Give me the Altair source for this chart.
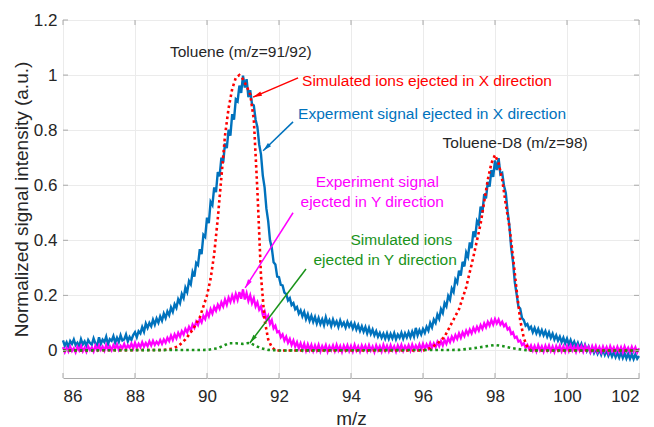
import math
import altair as alt
import pandas as pd

# ---------------- data ----------------
mz_grid = [round(86 + 0.05 * i, 2) for i in range(321)]

# Experiment signal ejected in X direction (blue), one row per m/z unit (0.05 steps)
exp_x = [
    0.037, 0.017, 0.030, 0.012, 0.034, 0.024, 0.040, 0.019, 0.028, 0.014, 0.041, 0.022, 0.033, 0.016, 0.038, 0.027, 0.021, 0.044, 0.026, 0.018,
    0.048, 0.024, 0.039, 0.030, 0.050, 0.022, 0.041, 0.035, 0.052, 0.028, 0.046, 0.031, 0.055, 0.036, 0.040, 0.058, 0.033, 0.049, 0.038, 0.056,
    0.066, 0.048, 0.070, 0.062, 0.085, 0.068, 0.098, 0.082, 0.100, 0.088, 0.112, 0.094, 0.116, 0.101, 0.124, 0.108, 0.134, 0.118, 0.142, 0.128,
    0.156, 0.140, 0.168, 0.155, 0.186, 0.172, 0.205, 0.190, 0.228, 0.212, 0.252, 0.240, 0.285, 0.268, 0.318, 0.310, 0.368, 0.350, 0.420, 0.412,
    0.482, 0.462, 0.540, 0.528, 0.592, 0.575, 0.648, 0.632, 0.700, 0.682, 0.752, 0.735, 0.802, 0.780, 0.858, 0.838, 0.912, 0.905, 0.962, 0.935,
    0.998, 0.955, 0.985, 0.920, 0.945, 0.895, 0.890, 0.838, 0.812, 0.748, 0.712, 0.635, 0.592, 0.515, 0.470, 0.400, 0.372, 0.320, 0.312, 0.268,
    0.266, 0.238, 0.236, 0.210, 0.205, 0.182, 0.190, 0.165, 0.172, 0.150, 0.158, 0.134, 0.146, 0.124, 0.140, 0.114, 0.132, 0.108, 0.126, 0.104,
    0.122, 0.098, 0.118, 0.096, 0.113, 0.092, 0.120, 0.097, 0.110, 0.089, 0.112, 0.093, 0.106, 0.086, 0.109, 0.090, 0.101, 0.083, 0.104, 0.087,
    0.100, 0.080, 0.097, 0.076, 0.092, 0.071, 0.088, 0.068, 0.085, 0.062, 0.082, 0.060, 0.076, 0.055, 0.070, 0.050, 0.064, 0.046, 0.061, 0.043,
    0.062, 0.042, 0.060, 0.044, 0.063, 0.041, 0.058, 0.046, 0.064, 0.043, 0.062, 0.047, 0.066, 0.048, 0.068, 0.050, 0.082, 0.055, 0.074, 0.058,
    0.078, 0.064, 0.086, 0.072, 0.100, 0.084, 0.112, 0.100, 0.130, 0.115, 0.150, 0.136, 0.172, 0.160, 0.198, 0.184, 0.225, 0.212, 0.258, 0.246,
    0.290, 0.272, 0.322, 0.305, 0.356, 0.340, 0.392, 0.372, 0.432, 0.412, 0.470, 0.458, 0.522, 0.500, 0.568, 0.552, 0.612, 0.595, 0.655, 0.630,
    0.690, 0.655, 0.698, 0.640, 0.645, 0.598, 0.572, 0.505, 0.452, 0.372, 0.322, 0.248, 0.205, 0.160, 0.152, 0.118, 0.110, 0.090, 0.096, 0.078,
    0.086, 0.066, 0.082, 0.062, 0.078, 0.058, 0.074, 0.055, 0.070, 0.050, 0.066, 0.046, 0.061, 0.040, 0.055, 0.036, 0.050, 0.030, 0.046, 0.026,
    0.043, 0.022, 0.038, 0.018, 0.032, 0.013, 0.028, 0.008, 0.024, 0.002, 0.020, -0.001, 0.014, -0.006, 0.010, -0.009, 0.006, -0.012, 0.003, -0.015,
    0.004, -0.016, 0.000, -0.019, -0.004, -0.022, -0.006, -0.024, -0.008, -0.026, -0.006, -0.027, -0.010, -0.029, -0.012, -0.030, -0.013, -0.031, -0.014, -0.030,
    -0.020,
]

# Experiment signal ejected in Y direction (magenta)
exp_y = [
    0.012, -0.006, 0.009, -0.004, 0.014, -0.002, 0.008, -0.007, 0.013, 0.000, 0.016, -0.003, 0.010, -0.005, 0.015, 0.001, 0.011, -0.004, 0.017, 0.002,
    0.018, 0.002, 0.014, -0.001, 0.020, 0.004, 0.015, 0.001, 0.019, 0.006, 0.022, 0.003, 0.017, 0.008, 0.024, 0.006, 0.019, 0.010, 0.025, 0.008,
    0.028, 0.010, 0.024, 0.012, 0.030, 0.014, 0.027, 0.015, 0.033, 0.018, 0.035, 0.020, 0.032, 0.022, 0.038, 0.024, 0.040, 0.028, 0.046, 0.034,
    0.054, 0.038, 0.058, 0.044, 0.064, 0.050, 0.070, 0.058, 0.078, 0.066, 0.086, 0.072, 0.094, 0.082, 0.104, 0.092, 0.114, 0.102, 0.126, 0.114,
    0.140, 0.124, 0.150, 0.134, 0.158, 0.144, 0.166, 0.152, 0.175, 0.160, 0.185, 0.166, 0.192, 0.176, 0.200, 0.180, 0.205, 0.184, 0.212, 0.188,
    0.222, 0.185, 0.208, 0.180, 0.200, 0.172, 0.190, 0.160, 0.175, 0.148, 0.160, 0.130, 0.142, 0.112, 0.126, 0.096, 0.110, 0.080, 0.090, 0.066,
    0.070, 0.048, 0.058, 0.036, 0.050, 0.028, 0.042, 0.020, 0.036, 0.014, 0.030, 0.008, 0.026, 0.004, 0.024, 0.000, 0.022, 0.002, 0.020, -0.002,
    0.018, 0.000, 0.020, -0.003, 0.016, 0.002, 0.019, -0.004, 0.015, 0.001, 0.018, -0.002, 0.020, 0.000, 0.016, -0.005, 0.017, 0.001, 0.019, -0.002,
    0.016, -0.003, 0.020, 0.000, 0.015, -0.004, 0.018, 0.002, 0.017, -0.002, 0.019, 0.000, 0.014, -0.005, 0.018, 0.001, 0.016, -0.003, 0.020, 0.000,
    0.017, -0.002, 0.019, 0.001, 0.015, -0.004, 0.018, 0.002, 0.020, -0.001, 0.016, 0.003, 0.019, 0.000, 0.021, 0.002, 0.018, 0.004, 0.022, 0.003,
    0.024, 0.006, 0.022, 0.008, 0.027, 0.010, 0.026, 0.012, 0.031, 0.016, 0.034, 0.018, 0.038, 0.024, 0.044, 0.030, 0.050, 0.036, 0.056, 0.042,
    0.062, 0.046, 0.066, 0.052, 0.072, 0.058, 0.076, 0.062, 0.082, 0.068, 0.086, 0.072, 0.092, 0.078, 0.098, 0.084, 0.104, 0.090, 0.110, 0.094,
    0.114, 0.098, 0.112, 0.094, 0.104, 0.088, 0.096, 0.076, 0.082, 0.060, 0.066, 0.046, 0.050, 0.032, 0.036, 0.020, 0.026, 0.010, 0.020, 0.004,
    0.018, 0.000, 0.016, -0.003, 0.019, 0.001, 0.015, -0.004, 0.017, 0.000, 0.018, -0.002, 0.014, -0.005, 0.016, 0.000, 0.017, -0.003, 0.015, -0.004,
    0.016, -0.002, 0.018, 0.000, 0.014, -0.005, 0.016, -0.001, 0.015, -0.004, 0.017, 0.000, 0.013, -0.006, 0.015, -0.002, 0.016, -0.004, 0.012, -0.006,
    0.014, -0.003, 0.012, -0.007, 0.015, -0.002, 0.011, -0.006, 0.013, -0.004, 0.012, -0.007, 0.014, -0.003, 0.010, -0.006, 0.013, -0.004, 0.011, -0.007,
    0.008,
]

# Simulated ions ejected in X direction (red dotted)
sim_x_mz = [86, 88.8, 89.0, 89.2, 89.4, 89.6, 89.8, 90.0, 90.1, 90.2,
            90.3, 90.4, 90.5, 90.6, 90.7, 90.8, 90.9, 91.0, 91.1, 91.2,
            91.3, 91.4, 91.5, 91.6, 91.7, 91.8, 91.9, 96.0, 96.2, 96.4,
            96.6, 96.8, 97.0, 97.2, 97.4, 97.6, 97.8, 97.9, 98.0, 98.1,
            98.2, 98.3, 98.4, 98.5, 98.6, 98.7, 98.8, 98.9, 99.0, 102]
sim_x_val = [0, 0.002, 0.006, 0.015, 0.04, 0.075, 0.12, 0.20, 0.26, 0.35,
             0.48, 0.63, 0.78, 0.88, 0.95, 0.99, 1.0, 0.985, 0.96, 0.93,
             0.84, 0.58, 0.27, 0.11, 0.04, 0.012, 0.0, 0.0, 0.008, 0.025,
             0.05, 0.10, 0.15, 0.23, 0.34, 0.46, 0.62, 0.68, 0.71, 0.68,
             0.62, 0.53, 0.45, 0.34, 0.22, 0.11, 0.045, 0.012, 0.0, 0.0]

# Simulated ions ejected in Y direction (green dotted)
sim_y_mz = [86, 90.0, 90.3, 90.5, 90.6, 90.8, 91.0, 91.2, 91.3, 91.5,
            91.7, 92.0, 97.0, 97.4, 97.7, 98.0, 98.2, 98.5, 98.8, 99.0, 102]
sim_y_val = [0, 0.002, 0.008, 0.02, 0.026, 0.026, 0.024, 0.028, 0.02, 0.008,
             0.002, 0, 0.002, 0.008, 0.014, 0.02, 0.016, 0.008, 0.002, 0, 0]

x_ticks = [86, 88, 90, 92, 94, 96, 98, 100, 102]
y_ticks = [0, 0.2, 0.4, 0.6, 0.8, 1.0, 1.2]

# annotations
ann_text = ["Toluene (m/z=91/92)", "Toluene-D8 (m/z=98)",
            "Simulated ions ejected in X direction",
            "Experment signal ejected in X direction",
            "Experiment signal", "ejected in Y direction",
            "Simulated ions", "ejected in Y direction"]
ann_mz = [90.94, 98.56, 92.64, 92.53, 96.44, 96.58, 96.81, 96.94]
ann_val = [1.084, 0.753, 0.980, 0.859, 0.612, 0.539, 0.401, 0.329]
ann_color = ["#262626", "#262626", "#FF0000", "#0072BD",
             "#FF00FF", "#FF00FF", "#1A931A", "#1A931A"]
ann_align = ["center", "center", "left", "left", "right", "right", "right", "right"]

arrow_tail_mz = [92.53, 92.39, 92.39, 92.75]
arrow_tail_val = [0.99, 0.83, 0.50, 0.296]
arrow_head_mz = [91.28, 91.56, 91.06, 91.19]
arrow_head_val = [0.92, 0.725, 0.227, 0.027]
arrow_color = ["#FF0000", "#0072BD", "#FF00FF", "#1A931A"]

# ---------------- layout ----------------
W, H = 576, 358
X0, X1 = 86, 102
Y0, Y1 = -0.1, 1.2
FONT = "Liberation Sans"
TXT = "#262626"
BOX = "#a9a9a9"

xscale = alt.Scale(domain=[X0, X1], nice=False, zero=False)
yscale = alt.Scale(domain=[Y0, Y1], nice=False, zero=False)

xaxis = alt.Axis(values=x_ticks, format="~g", title="m/z", grid=True, gridColor="#ebebeb",
                 ticks=False, domain=False, labelFontSize=17, labelColor=TXT, labelFont=FONT,
                 labelPadding=10, titleFontSize=19, titleFont=FONT, titleFontWeight="normal",
                 titleColor=TXT, titlePadding=5)
yaxis = alt.Axis(values=y_ticks, format="~g", title="Normalized signal intensity (a.u.)",
                 grid=True, gridColor="#ebebeb", ticks=False, domain=False, labelFontSize=17,
                 labelColor=TXT, labelFont=FONT, labelPadding=6, titleFontSize=19,
                 titleFont=FONT, titleFontWeight="normal", titleColor=TXT, titlePadding=2)

X = alt.X("mz:Q", scale=xscale, axis=xaxis)
Y = alt.Y("val:Q", scale=yscale, axis=yaxis)

df_bx = pd.DataFrame({"mz": mz_grid, "val": exp_x})
df_my = pd.DataFrame({"mz": mz_grid, "val": exp_y})
df_rx = pd.DataFrame({"mz": sim_x_mz, "val": sim_x_val})
df_gy = pd.DataFrame({"mz": sim_y_mz, "val": sim_y_val})

blue = alt.Chart(df_bx).mark_line(color="#0072BD", strokeWidth=2.4).encode(x=X, y=Y)
mag = alt.Chart(df_my).mark_line(color="#FF00FF", strokeWidth=2.3).encode(x=X, y=Y)
red = alt.Chart(df_rx).mark_line(color="#FF0000", strokeWidth=2.6, strokeDash=[2.6, 3]).encode(x=X, y=Y)
green = alt.Chart(df_gy).mark_line(color="#1A931A", strokeWidth=2.6, strokeDash=[2.6, 3]).encode(x=X, y=Y)

# inward tick marks on all four sides
df_xt = pd.DataFrame({"mz": x_ticks})
df_yt = pd.DataFrame({"val": y_ticks})
tick_style = dict(color=BOX, strokeWidth=1)
tb = alt.Chart(df_xt).mark_rule(**tick_style).encode(x=X, y=alt.value(H), y2=alt.value(H - 5))
tt = alt.Chart(df_xt).mark_rule(**tick_style).encode(x=X, y=alt.value(0), y2=alt.value(5))
tl = alt.Chart(df_yt).mark_rule(**tick_style).encode(y=Y, x=alt.value(0), x2=alt.value(5))
tr = alt.Chart(df_yt).mark_rule(**tick_style).encode(y=Y, x=alt.value(W), x2=alt.value(W - 5))

# text annotations
df_ann = pd.DataFrame({"text": ann_text, "mz": ann_mz, "val": ann_val,
                       "color": ann_color, "align": ann_align})
text_layers = []
for al in ["left", "center", "right"]:
    sub = df_ann[df_ann["align"] == al]
    text_layers.append(
        alt.Chart(sub).mark_text(align=al, baseline="middle", font=FONT, fontSize=15.5)
        .encode(x=X, y=Y, text="text:N", color=alt.Color("color:N", scale=None))
    )

# arrows
px_x = W / (X1 - X0)
px_y = H / (Y1 - Y0)
angles = []
for tx, ty, hx, hy in zip(arrow_tail_mz, arrow_tail_val, arrow_head_mz, arrow_head_val):
    a = math.degrees(math.atan2((hx - tx) * px_x, (hy - ty) * px_y)) % 360
    angles.append(a)
df_arr = pd.DataFrame({"mz": arrow_tail_mz, "val": arrow_tail_val,
                       "mz2": arrow_head_mz, "val2": arrow_head_val,
                       "color": arrow_color, "angle": angles})
arr_line = alt.Chart(df_arr).mark_rule(strokeWidth=1.5).encode(
    x=X, y=Y, x2="mz2:Q", y2="val2:Q", color=alt.Color("color:N", scale=None))
df_head = pd.DataFrame({"mz": arrow_head_mz, "val": arrow_head_val,
                        "color": arrow_color, "angle": angles})
arr_head = alt.Chart(df_head).mark_point(
    shape="M0,0L0.55,2.2L-0.55,2.2Z", filled=True, size=64, opacity=1
).encode(x=X, y=Y, color=alt.Color("color:N", scale=None),
         angle=alt.Angle("angle:Q", scale=None))

chart = alt.layer(
    blue, mag, red, green, tb, tt, tl, tr, arr_line, arr_head, *text_layers
).properties(
    width=W, height=H,
    padding={"left": 63, "top": 20, "right": 15, "bottom": 49},
    autosize=alt.AutoSizeParams(type="none"),
    background="white",
).configure_view(stroke=BOX, strokeWidth=1)

chart.save("out.html", embed_options={"renderer": "svg", "actions": False})
